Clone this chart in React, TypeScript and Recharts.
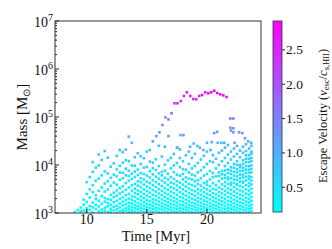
import React from 'react';
import { ScatterChart, Scatter, XAxis, YAxis } from 'recharts';

type Column = [number, number[]];

// Bulk of the cluster population: [time (Myr), masses (Msun)]
const earlyColumns: Column[] = [
  [9.0, [1050]],
  [9.25, [1150]],
  [9.5, [1080, 1300]],
  [9.75, [1120, 1500, 1900]],
  [10.0, [1060, 1240, 1700, 2500, 4400]],
  [10.25, [1150, 1400, 2100, 3100, 5600]],
  [10.5, [1030, 1320, 1650, 2700, 3800, 7200, 11500]],
  [10.75, [1210, 1480, 1980, 2350, 4700, 8800]],
  [11.0, [1090, 1370, 1800, 2900, 5200, 9800, 16500]],
  [11.25, [1020, 1180, 1560, 2250, 3400, 6100, 12800]],
  [11.5, [1110, 1290, 1720, 2050, 2800, 4100, 7400, 19500]],
  [11.75, [1040, 1380, 1610, 1950, 3100, 4600, 6700, 14200]],
  [12.0, [1070, 1230, 1490, 1880, 2400, 3700, 5400, 9200]],
  [12.25, [1130, 1350, 1680, 2150, 2650, 4300, 6300, 10800]],
  [12.5, [1010, 1200, 1420, 1790, 2300, 2950, 3900, 5800, 8100, 15500]],
  [12.75, [1090, 1310, 1570, 1960, 2550, 3300, 4900, 7000, 9600, 20500]],
  [13.0, [1040, 1170, 1440, 1720, 2100, 2750, 3600, 5300, 6900, 11200, 18500]],
  [13.25, [1120, 1270, 1530, 1850, 2350, 3050, 4200, 6100, 8400, 12600, 21000]],
  [13.5, [1060, 1220, 1390, 1640, 2000, 2500, 3400, 4700, 5900, 7600, 12000]],
  [13.75, [1030, 1150, 1340, 1580, 1900, 2250, 2900, 3800, 5100, 6600, 9800]],
];

const midColumns: Column[] = [
  [14.0, [1080, 1260, 1470, 1760, 2150, 2600, 3200, 4000, 5600, 7300, 9700, 14500]],
  [14.25, [1020, 1190, 1380, 1620, 1980, 2450, 2950, 3700, 4600, 6200, 8000, 17500]],
  [14.5, [1110, 1290, 1520, 1830, 2200, 2750, 3450, 4400, 5300, 6800, 10500, 15200]],
  [14.75, [1050, 1230, 1430, 1700, 2050, 2500, 3100, 3900, 5000, 6500, 8800, 13800]],
  [15.0, [1010, 1160, 1340, 1560, 1870, 2300, 2850, 3550, 4500, 6000, 9100, 19000]],
  [15.25, [1090, 1280, 1490, 1780, 2150, 2650, 3300, 4200, 5500, 7400, 11800, 20500]],
  [15.5, [1040, 1210, 1410, 1650, 1940, 2400, 3000, 3800, 4800, 6400, 8600, 11200]],
  [15.75, [1120, 1300, 1540, 1850, 2250, 2800, 3500, 4400, 5700, 7900, 13200]],
  [16.0, [1060, 1240, 1460, 1730, 2080, 2550, 3150, 4000, 5200, 6700, 9500, 25000]],
  [16.25, [1020, 1180, 1370, 1600, 1910, 2350, 2900, 3650, 4700, 6100, 7200, 15000]],
  [16.5, [1100, 1270, 1500, 1790, 2150, 2650, 3300, 4300, 5400, 7600, 10200, 24000]],
  [16.75, [1050, 1220, 1420, 1680, 2000, 2450, 3050, 3850, 5000, 6600, 12500]],
  [17.0, [1010, 1150, 1330, 1560, 1860, 2250, 2800, 3450, 4300, 5600, 8500, 14000]],
  [17.25, [1080, 1260, 1480, 1750, 2100, 2600, 3250, 4100, 5100, 7100, 9800, 17000]],
  [17.5, [1040, 1200, 1400, 1640, 1960, 2400, 3000, 3750, 4600, 6300, 11000, 23000]],
  [17.75, [1110, 1290, 1510, 1800, 2180, 2700, 3400, 4300, 6000, 9000, 14000, 21000]],
  [18.0, [1060, 1230, 1450, 1720, 2060, 2500, 3100, 3900, 5000, 6500, 8200, 12000]],
  [18.25, [1020, 1170, 1360, 1590, 1900, 2300, 2850, 3550, 4500, 5500, 8000, 16000]],
  [18.5, [1090, 1270, 1490, 1770, 2120, 2600, 3250, 4050, 5200, 7000, 10500, 19000]],
  [18.75, [1050, 1210, 1410, 1660, 1990, 2450, 3000, 3800, 5000, 6300, 8500, 14000]],
];

const lateColumns: Column[] = [
  [19.0, [1010, 1160, 1350, 1580, 1890, 2300, 2850, 3600, 4600, 6000, 9500, 17000]],
  [19.25, [1080, 1250, 1470, 1740, 2080, 2550, 3150, 4000, 4800, 7000, 11000]],
  [19.5, [1040, 1200, 1400, 1650, 1970, 2400, 2950, 3700, 5300, 7800, 13000]],
  [19.75, [1120, 1300, 1530, 1820, 2200, 2700, 3350, 4200, 6000, 9000, 15500]],
  [20.0, [1060, 1240, 1460, 1730, 2070, 2500, 3100, 3900, 4500, 6500, 10500]],
  [20.25, [1020, 1180, 1370, 1610, 1920, 2350, 2900, 3600, 5000, 7500, 12000]],
  [20.5, [1100, 1280, 1500, 1780, 2130, 2600, 3200, 4200, 5600, 6800, 11500, 16000]],
  [20.75, [1050, 1220, 1430, 1690, 2020, 2450, 3050, 3800, 5800, 8500, 13500]],
  [21.0, [1010, 1150, 1330, 1560, 1860, 2250, 2750, 3400, 4600, 5900, 7000, 10000, 18000]],
  [21.25, [1080, 1260, 1480, 1750, 2100, 2550, 3150, 3950, 5200, 6400, 7500, 12000, 20000]],
  [21.5, [1040, 1200, 1400, 1650, 1970, 2380, 2900, 3600, 4400, 5400, 6200, 7700, 9500, 14000, 23000]],
  [21.75, [1110, 1290, 1510, 1800, 2170, 2650, 3250, 4050, 5000, 5500, 6800, 8000, 11000, 16500, 26000]],
  [22.0, [1060, 1230, 1450, 1720, 2060, 2500, 3050, 3800, 4300, 5300, 6500, 7600, 9000, 13000, 19000]],
  [22.25, [1020, 1170, 1360, 1600, 1900, 2300, 2800, 3450, 4250, 5000, 6000, 7200, 8800, 10500, 15000, 22000]],
  [22.5, [1090, 1270, 1490, 1770, 2120, 2580, 3150, 3900, 4000, 4900, 5800, 7000, 8200, 10000, 12000, 17000, 25000]],
  [22.75, [1050, 1210, 1410, 1670, 2000, 2420, 2950, 3650, 4500, 5300, 6300, 7500, 9000, 10000, 14500, 20000]],
  [23.0, [1010, 1160, 1350, 1590, 1890, 2290, 2800, 3450, 4250, 4500, 5500, 6300, 7600, 8800, 10500, 12500, 18000, 24000]],
  [23.25, [1080, 1250, 1470, 1740, 2080, 2530, 3100, 3800, 4800, 5700, 6800, 8000, 9500, 11500, 13500, 16000, 19500, 27000]],
  [23.5, [1040, 1200, 1400, 1660, 1980, 2400, 2930, 3600, 4200, 5100, 5800, 6900, 8000, 9400, 11500, 13500, 16000, 22000]],
  [23.7, [1100, 1280, 1500, 1790, 2150, 2620, 3200, 3950, 4700, 5600, 7000, 8300, 9800, 12000, 14000, 17000, 19000, 25000]],
];

// Individual higher-mass clusters: [time, mass]
const risingClusters: [number, number][] = [
  [13.5, 39000], [13.75, 29000], [15.5, 31000], [15.8, 40000], [16.05, 48000],
  [16.3, 68000], [16.55, 98000], [16.8, 89000], [17.05, 120000], [16.8, 40000],
  [17.8, 42000], [18.05, 42000], [17.55, 23000],
];

const midBandClusters: [number, number][] = [
  [18.6, 24000], [18.9, 28000], [19.2, 25000], [19.4, 23000], [19.7, 20500],
  [20.0, 19000], [20.3, 20500], [20.0, 29000], [20.4, 30000],
];

const lateHighClusters: [number, number][] = [
  [20.6, 46000], [20.85, 49000], [20.9, 29000], [21.2, 29000], [21.45, 29000],
  [22.3, 29000], [21.95, 93000], [22.2, 93000], [21.95, 60000], [22.2, 58000],
  [22.0, 52000], [22.2, 48000], [22.67, 48000], [22.94, 46000], [23.17, 36000],
  [23.44, 31000], [23.69, 29000],
];

// Most massive cluster track: [time, mass, escape velocity]
const massiveCluster: [number, number, number][] = [
  [17.3, 193000, 2.3], [17.55, 193000, 2.35], [17.83, 215000, 2.4], [18.08, 274000, 2.55],
  [18.33, 327000, 2.65], [18.61, 274000, 2.6], [18.86, 237000, 2.55], [19.11, 234000, 2.55],
  [19.36, 274000, 2.65], [19.61, 287000, 2.7], [19.86, 327000, 2.75], [20.11, 312000, 2.75],
  [20.36, 327000, 2.8], [20.61, 353000, 2.85], [20.86, 316000, 2.8], [21.11, 297000, 2.8],
  [21.36, 283000, 2.8], [21.63, 261000, 2.75],
];

// Colour for each mass band: [upper mass, escape velocity]
const velocityBands: [number, number][] = [
  [1500, 0.16], [2500, 0.22], [4000, 0.3], [6000, 0.4], [9000, 0.5], [14000, 0.62],
  [20000, 0.75], [30000, 0.9], [45000, 1.1], [70000, 1.3], [100000, 1.55], [Infinity, 1.85],
];

const X_DOMAIN: [number, number] = [7.36, 24.5];
const Y_DOMAIN: [number, number] = [1e3, 1e7];
const xTicks = [10, 15, 20];
const yMajorTicks = [1e3, 1e4, 1e5, 1e6, 1e7];
const yMinorTicks = [1e3, 1e4, 1e5, 1e6].flatMap((d) => [2, 3, 4, 5, 6, 7, 8, 9].map((k) => k * d));
const colorbarTicks = [0.5, 1.0, 1.5, 2.0, 2.5];
const V_RANGE: [number, number] = [0.14, 2.92];

const FONT = '"Liberation Serif", "Times New Roman", serif';

function coolColor(v: number): string {
  const t = Math.max(0, Math.min(1, (v - V_RANGE[0]) / (V_RANGE[1] - V_RANGE[0])));
  const r = Math.round(255 * t);
  const g = Math.round(255 * (1 - t));
  return `rgb(${r},${g},255)`;
}

function bandVelocity(m: number): number {
  for (const [upper, v] of velocityBands) if (m < upper) return v;
  return 1.85;
}

type Pt = { t: number; m: number; color: string };

const points: Pt[] = [];
for (const [t, ms] of [...earlyColumns, ...midColumns, ...lateColumns]) {
  for (const m of ms) points.push({ t, m, color: coolColor(bandVelocity(m)) });
}
for (const [t, m] of [...risingClusters, ...midBandClusters, ...lateHighClusters]) {
  points.push({ t, m, color: coolColor(bandVelocity(m)) });
}
for (const [t, m, v] of massiveCluster) points.push({ t, m, color: coolColor(v) });

const PLOT = { left: 55, top: 21, right: 261, bottom: 213 };
const CB = { x: 273, y: 21, w: 9, h: 191 };

const renderSquare = (props: any) => {
  const { cx, cy, payload } = props;
  if (cx == null || cy == null) return <g />;
  return <rect x={cx - 1.3} y={cy - 1.3} width={2.6} height={2.6} fill={payload.color} />;
};

const XTick = (props: any) => {
  const { x, payload } = props;
  const y = PLOT.bottom;
  return (
    <g>
      <line x1={x} y1={y} x2={x} y2={y - 4} stroke="#222" strokeWidth={1} />
      <text x={x} y={y + 11} textAnchor="middle" fontFamily={FONT} fontSize={14} fill="#111">
        {payload.value}
      </text>
    </g>
  );
};

const YTick = (props: any) => {
  const { y, payload } = props;
  const x = PLOT.left;
  const v = payload.value as number;
  const exp = Math.round(Math.log10(v));
  const isMajor = Math.abs(v - Math.pow(10, exp)) < 1e-6 * v;
  return (
    <g>
      <line x1={x} y1={y} x2={x + (isMajor ? 4 : 2)} y2={y} stroke="#222" strokeWidth={1} />
      {isMajor && (
        <text x={x - 2} y={y + 5.5} textAnchor="end" fontFamily={FONT} fontSize={14} fill="#111">
          <tspan>10</tspan>
          <tspan dy={-6} fontSize={10}>{exp}</tspan>
        </text>
      )}
    </g>
  );
};

export default function App() {
  const cbY = (v: number) => CB.y + CB.h - ((v - V_RANGE[0]) / (V_RANGE[1] - V_RANGE[0])) * CB.h;
  return (
    <div style={{ position: 'absolute', left: 0, top: 0, width: 332, height: 249, background: '#fff' }}>
      <ScatterChart
        width={332}
        height={249}
        margin={{ top: PLOT.top, right: 332 - PLOT.right, bottom: 0, left: 0 }}
      >
        <XAxis
          type="number"
          dataKey="t"
          domain={X_DOMAIN}
          ticks={xTicks}
          height={249 - PLOT.bottom}
          tickSize={0}
          tickMargin={0}
          tickLine={false}
          axisLine={false}
          interval={0}
          allowDataOverflow
          tick={XTick}
        />
        <YAxis
          type="number"
          dataKey="m"
          scale="log"
          domain={Y_DOMAIN}
          ticks={[...yMajorTicks, ...yMinorTicks]}
          width={PLOT.left}
          tickSize={0}
          tickMargin={0}
          tickLine={false}
          axisLine={false}
          interval={0}
          allowDataOverflow
          tick={YTick}
        />
        <Scatter data={points} shape={renderSquare} isAnimationActive={false} />
      </ScatterChart>
      <svg
        width={332}
        height={249}
        style={{ position: 'absolute', left: 0, top: 0, pointerEvents: 'none' }}
      >
        <defs>
          <linearGradient id="cool" x1="0" y1="1" x2="0" y2="0">
            <stop offset="0%" stopColor="rgb(0,255,255)" />
            <stop offset="100%" stopColor="rgb(255,0,255)" />
          </linearGradient>
        </defs>
        <rect
          x={PLOT.left}
          y={PLOT.top}
          width={PLOT.right - PLOT.left}
          height={PLOT.bottom - PLOT.top}
          fill="none"
          stroke="#333"
          strokeWidth={1}
        />
        <text
          transform={`translate(26.5, 117) rotate(-90)`}
          textAnchor="middle"
          fontFamily={FONT}
          fontSize={15}
          fill="#111"
        >
          Mass [M<tspan dy={3} fontSize={10}>⊙</tspan><tspan dy={-3}>]</tspan>
        </text>
        <text x={156} y={241} textAnchor="middle" fontFamily={FONT} fontSize={14.5} fill="#111">
          Time [Myr]
        </text>
        <rect x={CB.x} y={CB.y} width={CB.w} height={CB.h} fill="url(#cool)" stroke="#333" strokeWidth={0.8} />
        {colorbarTicks.map((v) => (
          <g key={v}>
            <line x1={CB.x + CB.w} y1={cbY(v)} x2={CB.x + CB.w + 3} y2={cbY(v)} stroke="#222" strokeWidth={1} />
            <text x={CB.x + CB.w + 4} y={cbY(v) + 4.5} fontFamily={FONT} fontSize={13.5} fill="#111">
              {v.toFixed(1)}
            </text>
          </g>
        ))}
        <text
          transform={`translate(326.5, 116) rotate(-90)`}
          textAnchor="middle"
          fontFamily={FONT}
          fontSize={12.5}
          fill="#111"
        >
          Escape Velocity (<tspan fontStyle="italic">v</tspan>
          <tspan dy={2.5} fontSize={8.5}>esc</tspan>
          <tspan dy={-2.5}>/</tspan>
          <tspan fontStyle="italic">c</tspan>
          <tspan dy={2.5} fontSize={8.5}>s,HII</tspan>
          <tspan dy={-2.5}>)</tspan>
        </text>
      </svg>
    </div>
  );
}
